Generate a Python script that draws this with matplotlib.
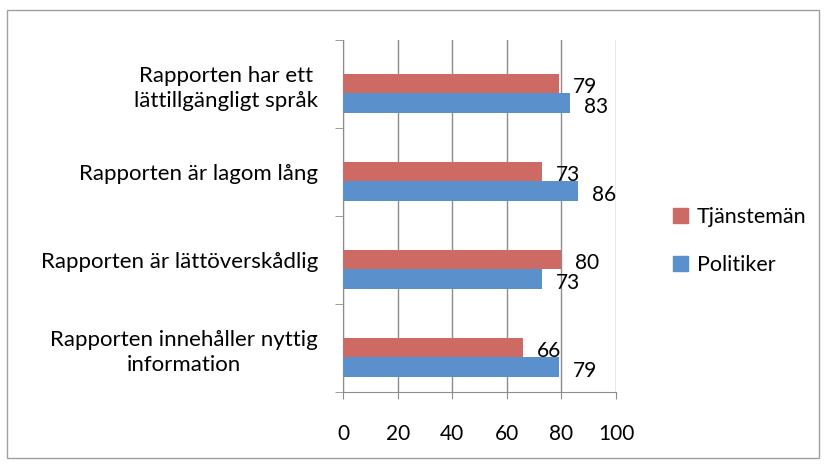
import matplotlib
matplotlib.use("Agg")
import matplotlib.pyplot as plt
from matplotlib.patches import Rectangle, Patch
import numpy as np

plt.rcParams["font.family"] = ["Lato", "DejaVu Sans"]

categories = ["Rapporten innehåller nyttig\ninformation",
              "Rapporten är lättöverskådlig",
              "Rapporten är lagom lång",
              "Rapporten har ett\nlättillgängligt språk"]
tjanstemen = [66, 80, 73, 79]
politiker = [79, 73, 86, 83]
series_names = ["Tjänstemän", "Politiker"]

RED = "#cd6a64"
BLUE = "#5a90cc"
GRID = "#8c8c8c"

fig = plt.figure(figsize=(8.26, 4.67), dpi=100)
fig.patches.append(Rectangle((0.008, 0.02), 0.983, 0.958, transform=fig.transFigure,
                             fill=False, edgecolor="#a0a0a0", linewidth=1))
ax = fig.add_axes([0.4153, 0.1606, 0.3305, 0.7537])

y = np.arange(len(categories))
h = 0.22
ax.barh(y + 0.005, tjanstemen, height=h, color=RED, zorder=3)
ax.barh(y - 0.215, politiker, height=h, color=BLUE, zorder=3)
for yi, v in zip(y, tjanstemen):
    ax.annotate(f"{v}", (v, yi), xytext=(10, -2.5), textcoords="offset points",
                va="center", ha="left", fontsize=15)
for yi, v in zip(y, politiker):
    ax.annotate(f"{v}", (v, yi - 0.2), xytext=(10, -4), textcoords="offset points",
                va="center", ha="left", fontsize=15)

ax.set_xlim(0, 100)
ax.set_ylim(-0.5, 3.5)
ax.set_xticks(range(0, 101, 20))
ax.tick_params(axis="x", labelsize=15, length=5, color=GRID, pad=18)
ax.set_yticks(y)
ax.set_yticklabels(categories, fontsize=16, multialignment="center", linespacing=1.3)
ax.tick_params(axis="y", which="major", length=0, pad=18)
ax.set_yticks(np.arange(-0.5, 3.6, 1), minor=True)
ax.tick_params(axis="y", which="minor", length=6, color=GRID)
ax.grid(axis="x", color=GRID, linewidth=1, zorder=0)
for s in ["top", "right"]:
    ax.spines[s].set_visible(False)
for s in ["left", "bottom"]:
    ax.spines[s].set_color(GRID)

handles = [Patch(color=RED), Patch(color=BLUE)]
fig.legend(handles, series_names, loc="center left", bbox_to_anchor=(0.815, 0.483),
           frameon=False, fontsize=15.5, handlelength=0.7, handleheight=0.7,
           handletextpad=0.4, labelspacing=1.3, borderpad=0, borderaxespad=0)

fig.savefig("out.png", dpi=100)
